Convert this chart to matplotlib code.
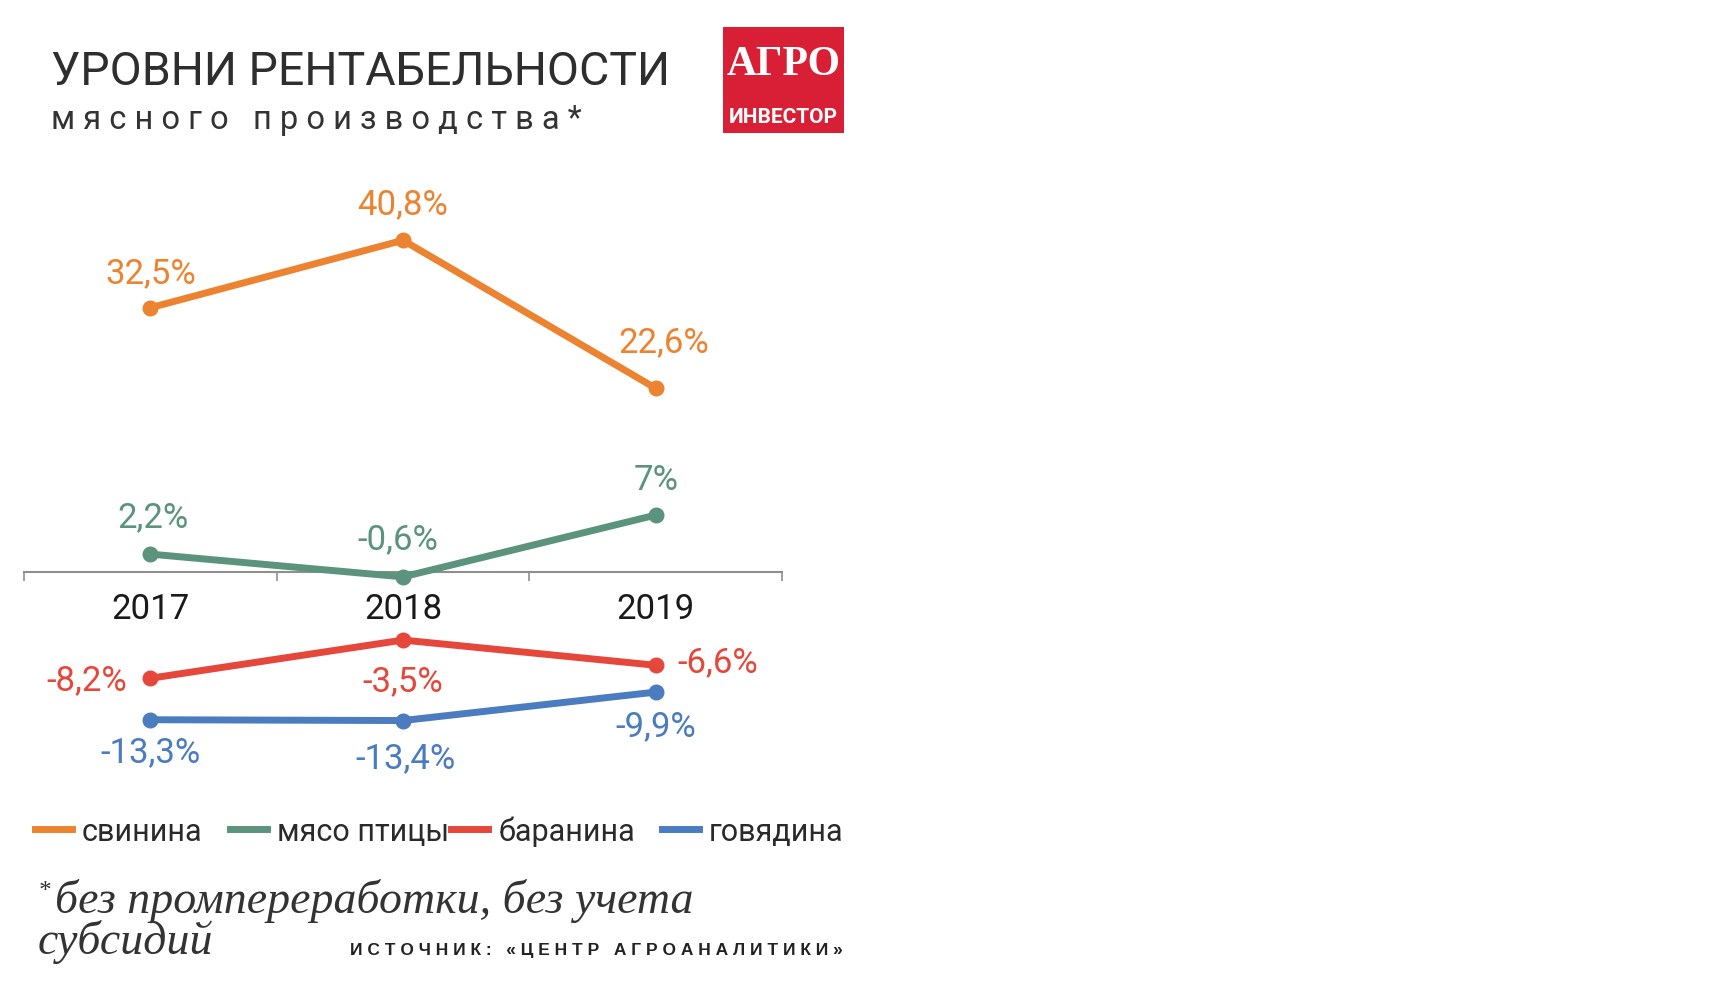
import matplotlib
matplotlib.use("Agg")
import matplotlib.pyplot as plt
from matplotlib.lines import Line2D
from matplotlib.patches import Rectangle

# данные
years = ["2017", "2018", "2019"]
names = ["свинина", "мясо птицы", "баранина", "говядина"]
svinina = [32.5, 40.8, 22.6]
ptica = [2.2, -0.6, 7.0]
baranina = [-8.2, -3.5, -6.6]
govyadina = [-13.3, -13.4, -9.9]
colors = ["#ec8330", "#5c937d", "#e5473a", "#4a7cbf"]

W, H = 1716, 998
S = 8.13  # пикселей на 1 п.п.
SANS = ["Roboto", "DejaVu Sans"]

fig = plt.figure(figsize=(W / 100, H / 100), dpi=100)


def rect(x0, x1, ytop, ybot):
    return [x0 / W, 1 - ybot / H, (x1 - x0) / W, (ybot - ytop) / H]


def fy(y):
    return 1 - y / H


def fmt(v):
    if v == int(v):
        s = "%d" % v
    else:
        s = ("%.1f" % v).replace(".", ",")
    return s + "%"


# верхняя часть (положительные) и нижняя (отрицательные, со сдвигом под подписи лет)
ax = fig.add_axes(rect(24, 782, 572 - 46 * S, 572 + 2 * S))
ax.set_ylim(-2, 46)
ax2 = fig.add_axes(rect(24, 782, 611.6 + 2 * S, 611.6 + 16 * S))
ax2.set_ylim(-16, -2)

x = list(range(len(years)))
for a in (ax, ax2):
    a.set_xlim(-0.5, 2.5)
    a.patch.set_alpha(0)
    for s in ["top", "right", "left"]:
        a.spines[s].set_visible(False)
    a.set_yticks([])
ax2.spines["bottom"].set_visible(False)
ax2.set_xticks([])

ax.spines["bottom"].set_position(("data", 0))
ax.spines["bottom"].set_color("#8f8f8f")
ax.spines["bottom"].set_linewidth(1.5)
ax.set_xticks([-0.5, 0.5, 1.5, 2.5])
ax.set_xticklabels([])
ax.set_xticks(x, minor=True)
ax.set_xticklabels(years, minor=True, fontsize=25, family=SANS, color="#1a1a1a")
ax.tick_params(axis="x", which="major", direction="out", length=6.5, width=1.2, color="#8f8f8f")
ax.tick_params(axis="x", which="minor", length=0, pad=15)

series = [(ax, svinina), (ax, ptica), (ax2, baranina), (ax2, govyadina)]
# смещения подписей (пиксели) и выравнивание
offs = [
    [(0, 34, "center"), (0, 36, "center"), (8, 46, "center")],
    [(3, 36, "center"), (-5, 37, "center"), (0, 35, "center")],
    [(-23, -2, "right"), (0, -42, "center"), (22, 3, "left")],
    [(0, -33, "center"), (2, -38, "center"), (0, -35, "center")],
]

for i, (a, vals) in enumerate(series):
    a.plot(x, vals, color=colors[i], lw=5, marker="o", ms=10.5,
           clip_on=False, solid_capstyle="round", zorder=3)
    for j, v in enumerate(vals):
        dx, dy, ha = offs[i][j]
        a.annotate(fmt(v), (x[j], v), xytext=(dx, dy), textcoords="offset pixels",
                   ha=ha, va="center", fontsize=25, family=SANS,
                   color=colors[i], annotation_clip=False)

# заголовок
fig.text(51 / W, fy(85), "УРОВНИ РЕНТАБЕЛЬНОСТИ", fontsize=33.5, family=SANS,
         color="#2e2e2e", va="baseline")
sub = "   ".join([" ".join("мясного"), " ".join("производства*")])
fig.text(51 / W, fy(129), sub, fontsize=23.5, family=SANS, color="#333333", va="baseline")

# логотип
fig.add_artist(Rectangle((723 / W, fy(133)), 121 / W, 106 / H, transform=fig.transFigure,
                         facecolor="#d81f36", edgecolor="none"))
fig.text(783.5 / W, fy(75), "АГРО", fontsize=30, family=["Liberation Serif", "DejaVu Serif"],
         weight="bold", color="white", ha="center", va="baseline")
fig.text(783.5 / W, fy(123), "ИНВЕСТОР", fontsize=15, family=SANS,
         weight="bold", color="white", ha="center", va="baseline")

# легенда
leg_x = [35, 230, 451, 662]
for i, nm in enumerate(names):
    x0 = leg_x[i]
    fig.add_artist(Line2D([x0 / W, (x0 + 37) / W], [fy(829), fy(829)], color=colors[i],
                          lw=5, transform=fig.transFigure))
    fig.text((x0 + 47) / W, fy(841), nm, fontsize=22, family=SANS,
             color="#2a2a2a", va="baseline")

# примечание и источник
serif = ["Liberation Serif", "DejaVu Serif"]
fig.text(38 / W, fy(898), "*", fontsize=18, family=serif, style="italic", color="#333333",
         va="baseline")
fig.text(55 / W, fy(913), "без промпереработки, без учета", fontsize=33, family=serif,
         style="italic", color="#333333", va="baseline")
fig.text(38 / W, fy(954), "субсидий", fontsize=33, family=serif,
         style="italic", color="#333333", va="baseline")
src = "   ".join(" ".join(w) for w in ["ИСТОЧНИК:", "«ЦЕНТР", "АГРОАНАЛИТИКИ»"])
fig.text(350 / W, fy(955), src, fontsize=12.5, family=["Liberation Sans", "DejaVu Sans"],
         weight="bold", color="#222222", va="baseline")

fig.savefig("out.png", dpi=100)
